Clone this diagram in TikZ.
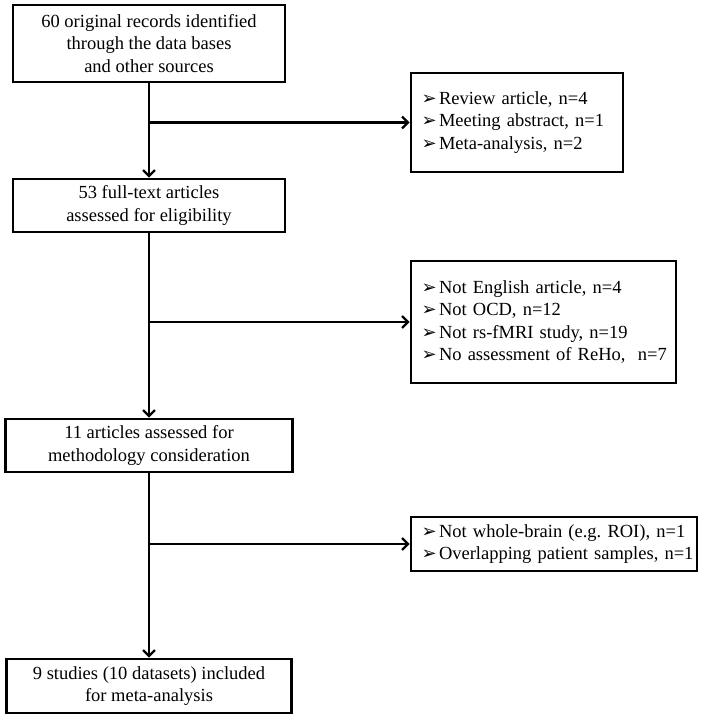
\documentclass[tikz,border=0pt]{standalone}
\usepackage{fontspec}
\setmainfont{Liberation Serif}
\newfontfamily\symfont{DejaVu Sans}
\usetikzlibrary{arrows.meta, positioning}

% one excluded item: arrow bullet plus text, never broken
\newcommand{\excl}[1]{\mbox{\makebox[17.5pt][l]{\symfont\fontsize{18}{22.5}\selectfont ➢}#1}}

\begin{document}
\begin{tikzpicture}[
    x=1pt, y=-1pt,
    % Define styles for consistency
    mainbox/.style={draw, line width=2.6pt, align=center, inner sep=0pt,
        font=\fontsize{18.5}{22.5}\selectfont},
    exclbox/.style={draw, line width=2.6pt, align=left, inner xsep=10.5pt, inner ysep=0pt,
        font=\fontsize{18.5}{22.5}\selectfont},
    flow/.style={line width=2.6pt, -{Straight Barb[length=6pt, width=12pt, line width=2.4pt]}},
    branch/.style={line width=2.2pt, -{Straight Barb[length=6pt, width=12pt, line width=2.4pt]}}
]
    \useasboundingbox (0,0) rectangle (708,720);

    % ---------------------------------------------------------
    % 1. Main column
    % ---------------------------------------------------------
    \node[mainbox, minimum width=272pt, minimum height=77pt] (records) at (149, 43.5)
        {60 original records identified\\through the data bases\\and other sources};
    \node[mainbox, minimum width=272pt, minimum height=53pt] (fulltext) at (149, 205.5)
        {53 full-text articles\\assessed for eligibility};
    \node[mainbox, minimum width=287pt, minimum height=53pt] (method) at (149, 445.5)
        {11 articles assessed for\\methodology consideration};
    \node[mainbox, minimum width=285pt, minimum height=54pt] (included) at (149, 686)
        {9 studies (10 datasets) included\\for meta-analysis};

    % ---------------------------------------------------------
    % 2. Exclusion boxes
    % ---------------------------------------------------------
    \node[exclbox, text width=191pt, minimum height=99pt] (excl1) at (517, 122.5)
        {\excl{Review article, n=4}\\
         \excl{Meeting abstract, n=1}\\
         \excl{Meta-analysis, n=2}};
    \node[exclbox, text width=244pt, minimum height=122pt] (excl2) at (543.5, 322)
        {\excl{Not English article, n=4}\\
         \excl{Not OCD, n=12}\\
         \excl{Not rs-fMRI study, n=19}\\
         \excl{No assessment of ReHo,\ \ n=7}};
    \node[exclbox, text width=265pt, minimum height=54pt] (excl3) at (554, 544)
        {\excl{Not whole-brain (e.g.\ ROI), n=1}\\
         \excl{Overlapping patient samples, n=1}};

    % Branch points on the main column
    \coordinate (split1) at (149, 122.5);
    \coordinate (split2) at (149, 322);
    \coordinate (split3) at (149, 544);

    % ---------------------------------------------------------
    % 3. Connectors
    % ---------------------------------------------------------
    \draw[flow] (records) -- (fulltext);
    \draw[flow] (fulltext) -- (method);
    \draw[flow] (method) -- (included);

    \draw[branch] (split1) -- (excl1.west);
    \draw[branch] (split2) -- (excl2.west);
    \draw[branch] (split3) -- (excl3.west);
\end{tikzpicture}
\end{document}
